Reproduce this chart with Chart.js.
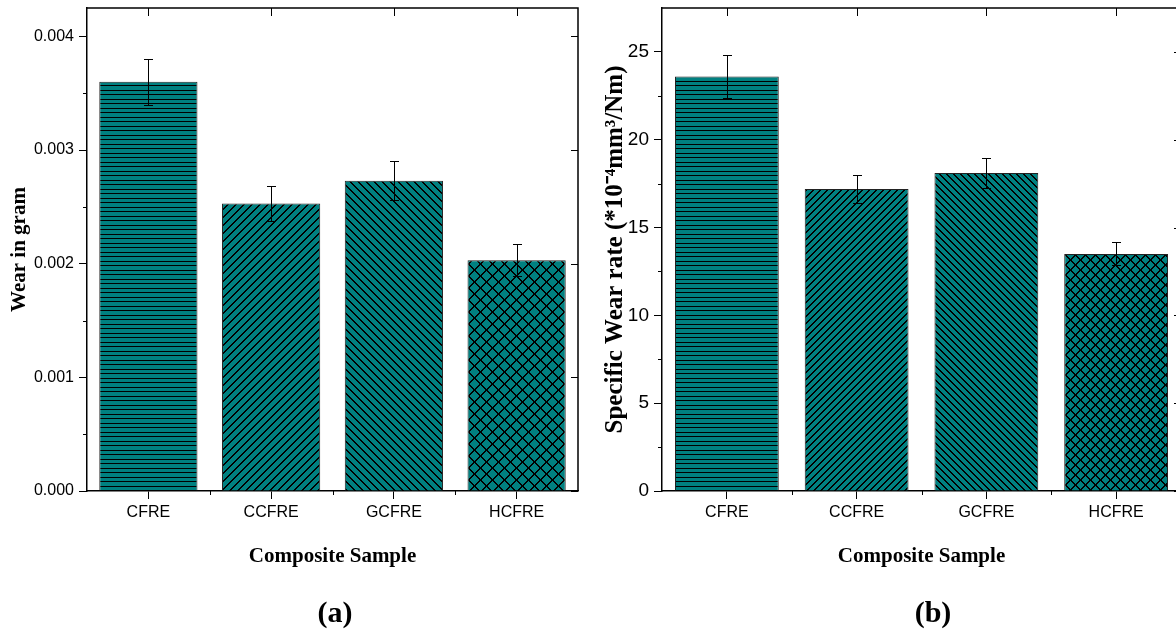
<!DOCTYPE html>
<html>
<head>
<meta charset="utf-8">
<script src="https://cdn.jsdelivr.net/npm/chart.js@4.4.0/dist/chart.umd.min.js"></script>
<style>
html, body { margin: 0; padding: 0; background: #fff; overflow: hidden; width: 1176px; height: 633px; }
canvas { position: absolute; top: 0; }
.panel { position: absolute; top: 596px; width: 100px; line-height: 32px; text-align: center;
         font-family: "Liberation Serif", serif; font-weight: bold; font-size: 30px; color: #000; }
</style>
</head>
<body>
<canvas id="chartA" width="590" height="633" style="left:0"></canvas>
<canvas id="chartB" width="600" height="633" style="left:590px"></canvas>
<div class="panel" style="left:285px">(a)</div>
<div class="panel" style="left:883px">(b)</div>
<script>
const samples = ['CFRE', 'CCFRE', 'GCFRE', 'HCFRE'];
const wearGram = [0.0036, 0.00253, 0.00273, 0.00203];
const wearGramErr = [0.0002, 0.00015, 0.00017, 0.00014];
const wearRate = [23.6, 17.2, 18.1, 13.5];
const wearRateErr = [1.2, 0.8, 0.85, 0.65];
const gramTicks = [0, 0.001, 0.002, 0.003, 0.004];
const rateTicks = [0, 5, 10, 15, 20, 25];

const TEAL = '#008080';
Chart.defaults.font.family = '"Liberation Sans", Arial, sans-serif';
Chart.defaults.color = '#000';

// hatch fills like the Origin bar patterns
function hatch(kind, p) {
    const c = document.createElement('canvas');
    c.width = p; c.height = p;
    const g = c.getContext('2d');
    g.fillStyle = TEAL;
    g.fillRect(0, 0, p, p);
    g.fillStyle = '#000';
    if (kind === 'h') {
        g.fillRect(0, 0, p, 1);
        g.fillRect(0, Math.floor(p / 2), p, 1);
    }
    for (let i = 0; i < p; i++) {
        if (kind === '/' || kind === 'x') {
            g.fillRect(i, p - 1 - i, 1, 1);
            g.fillRect((i + 1) % p, p - 1 - i, 1, 1);
        }
        if (kind === '\\' || kind === 'x') {
            g.fillRect(i, i, 1, 1);
            g.fillRect((i + 1) % p, i, 1, 1);
        }
    }
    return g.createPattern(c, 'repeat');
}

const errorBars = {
    id: 'errorBars',
    afterDatasetsDraw(chart, args, opts) {
        const ctx = chart.ctx;
        const y = chart.scales.y;
        const vals = chart.data.datasets[0].data;
        ctx.save();
        ctx.strokeStyle = '#000';
        ctx.lineWidth = 1;
        chart.getDatasetMeta(0).data.forEach((bar, i) => {
            const x = Math.round(bar.x) + 0.5;
            const top = Math.round(y.getPixelForValue(vals[i] + opts.errors[i])) + 0.5;
            const bot = Math.round(y.getPixelForValue(vals[i] - opts.errors[i])) + 0.5;
            ctx.beginPath();
            ctx.moveTo(x, top); ctx.lineTo(x, bot);
            ctx.moveTo(x - 4.5, top); ctx.lineTo(x + 4.5, top);
            ctx.moveTo(x - 4.5, bot); ctx.lineTo(x + 4.5, bot);
            ctx.stroke();
        });
        ctx.restore();
    }
};

// top/right frame, mirrored ticks and minor ticks
const frame = {
    id: 'frame',
    afterDraw(chart, args, opts) {
        const ctx = chart.ctx, a = chart.chartArea;
        const x = chart.scales.x, y = chart.scales.y;
        const major = opts.major;
        ctx.save();
        ctx.strokeStyle = '#000';
        ctx.lineWidth = 1.5;
        ctx.beginPath();
        ctx.moveTo(a.left, a.top); ctx.lineTo(a.right, a.top);
        ctx.lineTo(a.right, a.bottom);
        ctx.stroke();
        ctx.lineWidth = 1;
        ctx.beginPath();
        samples.forEach((s, i) => {
            const px = Math.round(x.getPixelForValue(i)) + 0.5;
            ctx.moveTo(px, a.top); ctx.lineTo(px, a.top + 8);
        });
        major.forEach(v => {
            const py = Math.round(y.getPixelForValue(v)) + 0.5;
            ctx.moveTo(a.right, py); ctx.lineTo(a.right - 7, py);
        });
        for (let k = 0; k < major.length; k++) {
            const mid = major[k] + (major[1] - major[0]) / 2;
            if (mid >= y.max) break;
            const py = Math.round(y.getPixelForValue(mid)) + 0.5;
            ctx.moveTo(a.left, py); ctx.lineTo(a.left - 4, py);
        }
        for (let i = 0; i < samples.length - 1; i++) {
            const px = Math.round((x.getPixelForValue(i) + x.getPixelForValue(i + 1)) / 2) + 0.5;
            ctx.moveTo(px, a.bottom); ctx.lineTo(px, a.bottom + 4);
        }
        ctx.stroke();
        ctx.restore();
    }
};

function makeChart(id, values, errors, ticks, yMax, yTitle, fmt, dims, p) {
    const fills = [hatch('h', 9), hatch('/', p.diag), hatch('\\', p.diag), hatch('x', p.cross)];
    return new Chart(document.getElementById(id), {
        type: 'bar',
        data: {
            labels: samples,
            datasets: [{
                data: values,
                backgroundColor: fills,
                borderColor: '#222',
                borderWidth: 1,
                categoryPercentage: 1,
                barPercentage: 0.8
            }]
        },
        plugins: [errorBars, frame],
        options: {
            responsive: false,
            animation: false,
            layout: { padding: { top: 8, right: dims.right, left: 0, bottom: 0 } },
            plugins: {
                legend: { display: false },
                tooltip: { enabled: false },
                errorBars: { errors: errors },
                frame: { major: ticks }
            },
            scales: {
                x: {
                    grid: { offset: false, drawOnChartArea: false, drawTicks: true, tickLength: 8, color: '#000' },
                    border: { display: true, color: '#000', width: 1.5 },
                    ticks: { font: { size: 16 }, padding: 4, maxRotation: 0 },
                    title: {
                        display: true, text: 'Composite Sample',
                        font: { family: '"Liberation Serif", "Times New Roman", serif', weight: 'bold', size: 21 },
                        padding: { top: 0, bottom: 64 }
                    },
                    afterFit: s => { s.height = 142; s.paddingLeft = 0; s.paddingRight = 0; }
                },
                y: {
                    min: 0,
                    max: yMax,
                    grid: { drawOnChartArea: false, drawTicks: true, tickLength: 8, color: '#000' },
                    border: { display: true, color: '#000', width: 1.5 },
                    ticks: { font: { size: dims.tickSize }, padding: 5, callback: fmt },
                    afterBuildTicks: s => { s.ticks = ticks.map(v => ({ value: v })); },
                    title: {
                        display: true, text: yTitle,
                        font: { family: '"Liberation Serif", "Times New Roman", serif', weight: 'bold', size: dims.titleSize },
                        padding: { top: dims.titlePad, bottom: 0 }
                    },
                    afterFit: s => { s.width = dims.left; s.paddingTop = 0; s.paddingBottom = 0; }
                }
            }
        }
    });
}

makeChart('chartA', wearGram, wearGramErr, gramTicks, 0.00425, 'Wear in gram',
    v => v.toFixed(3), { left: 87, right: 12, titlePad: 7, titleSize: 21, tickSize: 16 }, { diag: 8, cross: 12 });
makeChart('chartB', wearRate, wearRateErr, rateTicks, 27.5, 'Specific Wear rate (*10\u207B\u2074mm\u00B3/Nm)',
    v => String(v), { left: 72, right: 9, titlePad: 11, titleSize: 25, tickSize: 19 }, { diag: 7, cross: 10 });
</script>
</body>
</html>
